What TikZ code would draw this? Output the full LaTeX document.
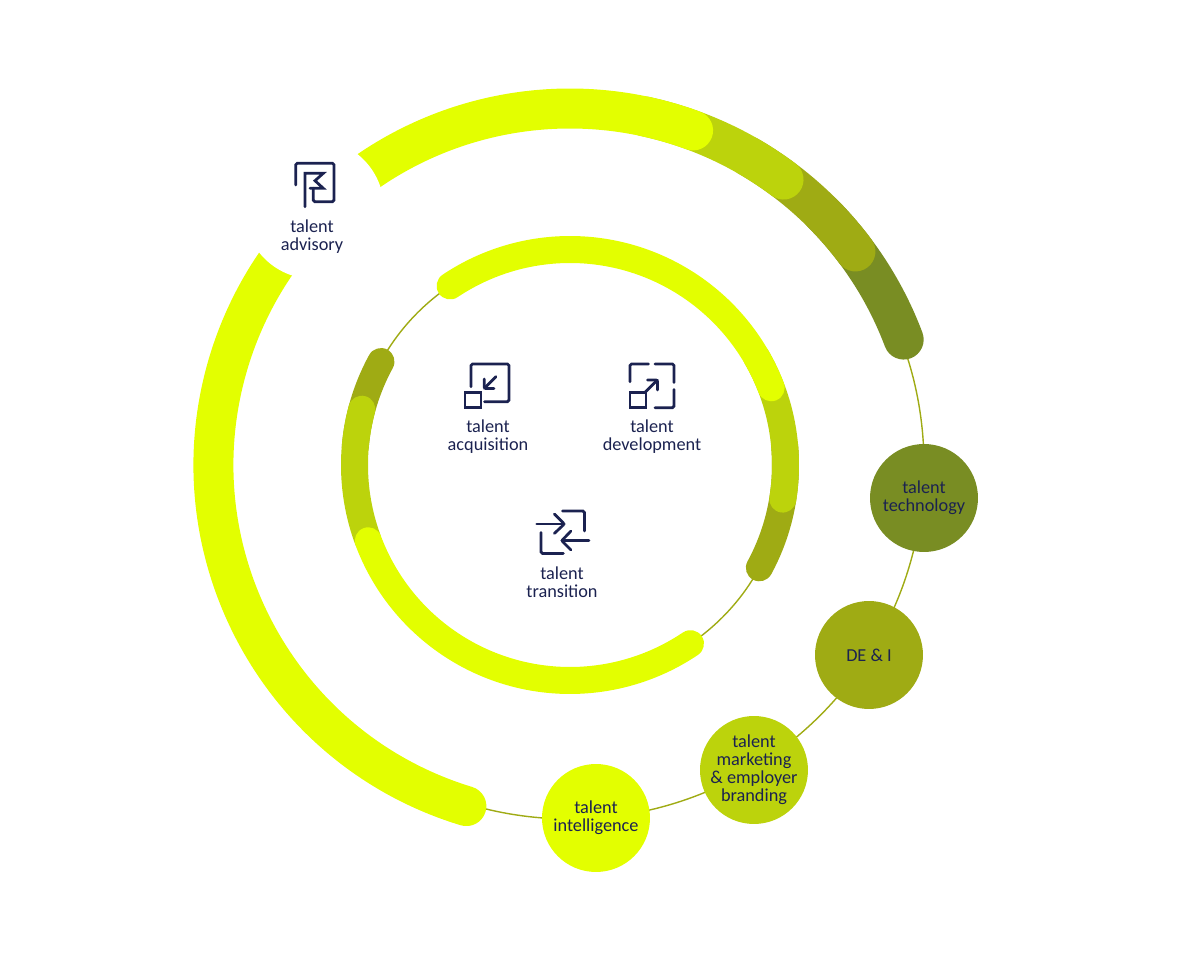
\documentclass[tikz,border=0pt]{standalone}
\usepackage{fontspec}
\setmainfont{Carlito}
\definecolor{ringyellow}{HTML}{E3FF00}
\definecolor{ringlime}{HTML}{BCD30C}
\definecolor{ringolive}{HTML}{9FAB14}
\definecolor{ringdark}{HTML}{798D23}
\definecolor{inknavy}{HTML}{1B2250}
\def\ringarc[#1](#2:#3:#4){\draw[#1] (#2:#4) arc (#2:#3:#4);}
\tikzset{
	bigband/.style={line width=0.8cm, line cap=round},
	smallband/.style={line width=0.54cm, line cap=round},
	thinring/.style={line width=0.028cm, color=ringolive},
	icon/.style={line width=0.055cm, color=inknavy, rounded corners=0.03cm, line cap=round},
	boxicon/.style={line width=0.055cm, color=inknavy},
	caption/.style={text=inknavy, align=center, font=\fontsize{10.4}{10.3}\selectfont, inner sep=0pt},
	bubble/.style={circle, minimum size=2.16cm, inner sep=-0.4cm, text=inknavy, align=center, font=\fontsize{10.4}{10.3}\selectfont}
}
\begin{document}
\begin{tikzpicture}[x=0.02cm, y=0.02cm]
	%%%%% START %%%%%
	\useasboundingbox (-570, -515) rectangle (621, 465);
	
	% thin rings
	\draw[thinring] (0, 0) circle (354);
	\draw[thinring] (0, 0) circle (215.5);
	
	% outer band
	\ringarc[bigband, color=ringdark](45:20.6:356.5);
	\ringarc[bigband, color=ringolive](60:36.8:356.5);
	\ringarc[bigband, color=ringlime](78:53.2:356.5);
	\ringarc[bigband, color=ringyellow](253.1:69.8:356.5);
	
	% gap for the flag
	\fill[white] (-256, 256) circle (70);
	
	% inner band
	\ringarc[smallband, color=ringolive](5:-28.5:215.5);
	\ringarc[smallband, color=ringlime](30:-9.1:215.5);
	\ringarc[smallband, color=ringyellow](123.8:21:215.5);
	\ringarc[smallband, color=ringolive](151.3:175:215.5);
	\ringarc[smallband, color=ringlime](165:200:215.5);
	\ringarc[smallband, color=ringyellow](200.6:304:215.5);
	
	% bubbles
	\node[bubble, fill=ringdark] (technology) at (354, -33) {talent\\technology};
	\node[bubble, fill=ringolive] (dei) at (299, -190) {DE \& I};
	\node[bubble, fill=ringlime] (marketing) at (184, -305) {talent\\marketing\\\& employer\\branding};
	\node[bubble, fill=ringyellow] (intelligence) at (26, -353) {talent\\intelligence};
	
	% flag
	\begin{scope}[shift={(-255, 280)}]
		\draw[boxicon, line cap=round, line join=miter] (-10, -21.7) -- (-10, 11.7) -- (8.3, 11.7) -- (0, 4.3) -- (8.3, -3.3) -- (-5, -3.3);
		\draw[icon] (-1.7, -3.3) -- (-1.7, -16.7) -- (19, -16.7) -- (19, 21.7) -- (-19.3, 21.7) -- (-19.3, 0);
	\end{scope}
	\node[caption] (advisory) at (-258, 228) {talent\\advisory};
	
	% acquisition
	\begin{scope}[shift={(-83, 79.3)}]
		\draw[icon] (-16, -1) -- (-16, 21.7) -- (22, 21.7) -- (22, -16) -- (-2.5, -16);
		\draw[boxicon] (-22, -6.7) rectangle (-6, -22);
		\draw[icon] (9, 9) -- (-2.7, -2.7);
		\draw[icon] (-2.7, 6.7) -- (-2.7, -2.7) -- (7, -2.7);
	\end{scope}
	\node[caption] (acquisition) at (-82, 28) {talent\\acquisition};
	
	% development
	\begin{scope}[shift={(81.7, 79.3)}]
		\draw[icon] (-21.7, 4) -- (-21.7, 21.7) -- (-3.3, 21.7);
		\draw[icon] (3.3, 21.7) -- (22.3, 21.7) -- (22.3, 3.3);
		\draw[icon] (22.3, -3.7) -- (22.3, -22) -- (3.3, -22);
		\draw[boxicon] (-21.7, -6.7) rectangle (-5.7, -22);
		\draw[icon] (-6.7, -6.7) -- (5.7, 5.7);
		\draw[icon] (-4.3, 5.7) -- (5.7, 5.7) -- (5.7, -4.3);
	\end{scope}
	\node[caption] (development) at (82, 28) {talent\\development};
	
	% transition
	\begin{scope}[shift={(-7.3, -66.7)}]
		\draw[icon] (-26, 7.7) -- (1.7, 7.7);
		\draw[icon] (-8.3, 17.7) -- (1.7, 7.7) -- (-8.3, -1.7);
		\draw[icon] (26.3, -9) -- (-1, -9);
		\draw[icon] (8.3, 0.7) -- (-1, -9) -- (8.3, -18.3);
		\draw[icon] (-0.3, 20.7) -- (21.7, 20.7) -- (21.7, 0.7);
		\draw[icon] (-21.7, -0.7) -- (-21.7, -21.7) -- (0.7, -21.7);
	\end{scope}
	\node[caption] (transition) at (-8, -117) {talent\\transition};
	
	%%%%% END %%%%%
\end{tikzpicture}
\end{document}
